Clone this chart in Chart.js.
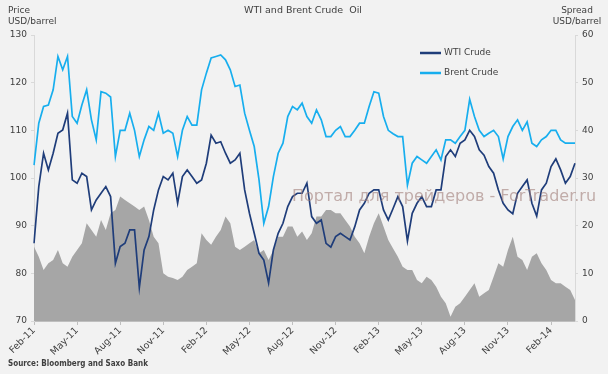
<!DOCTYPE html>
<html>
<head>
<meta charset="utf-8">
<script src="https://cdn.jsdelivr.net/npm/chart.js@4"></script>
<style>
  body { margin: 0; background: #f2f2f2; }
  canvas { display: block; }
</style>
</head>
<body>
<canvas id="oilChart" width="608" height="374"></canvas>
<script>
// Tick labels, one every 9 points (points are ~10 days apart)
const quarterLabels = ['Feb-11', 'May-11', 'Aug-11', 'Nov-11', 'Feb-12', 'May-12', 'Aug-12',
    'Nov-12', 'Feb-13', 'May-13', 'Aug-13', 'Nov-13', 'Feb-14'];
const tickEvery = 9;

// WTI Crude, USD/barrel
const wti = [
    86.3, 98.2, 105.2, 101.7, 105.2, 109.4, 110.1, 113.6, 99.6, 98.9,
    101.0, 100.3, 93.3, 95.4, 96.8, 98.2, 96.1, 82.1, 85.6, 86.3,
    89.1, 89.1, 77.0, 84.9, 87.7, 93.3, 97.5, 100.3, 99.6, 101.0,
    94.7, 100.3, 101.7, 100.3, 98.9, 99.6, 103.1, 109.0, 107.3, 107.6,
    105.2, 103.1, 103.8, 105.2, 97.5, 92.6, 88.4, 84.2, 82.8, 78.0,
    84.9, 88.4, 90.5, 94.0, 96.1, 96.8, 96.8, 98.9, 91.9, 90.5,
    91.2, 86.3, 85.5, 87.7, 88.4, 87.7, 87.0, 89.8, 93.3, 94.7,
    96.8, 97.5, 97.5, 93.3, 91.2, 93.6, 96.1, 94.0, 86.8, 92.6,
    94.7, 96.1, 94.0, 94.0, 97.5, 97.5, 104.5, 105.9, 104.5, 107.3,
    108.0, 110.0, 108.7, 105.9, 104.8, 102.4, 101.0, 97.5, 94.7, 93.3,
    92.5, 96.8, 98.2, 99.6, 94.7, 92.0, 97.5, 98.9, 102.4, 104.0,
    101.7, 98.9, 100.3, 103.1
];

// Brent Crude, USD/barrel
const brent = [
    102.7, 111.5, 115.0, 115.3, 118.5, 125.5, 122.7, 125.5, 112.9, 111.5,
    115.3, 118.5, 112.2, 108.0, 118.1, 117.8, 117.0, 104.5, 110.0, 110.0,
    113.6, 110.0, 104.5, 108.0, 110.8, 110.0, 113.6, 109.4, 110.0, 109.4,
    104.5, 110.0, 112.9, 111.1, 111.1, 118.5, 122.0, 125.2, 125.5, 125.8,
    124.8, 122.7, 119.2, 119.5, 113.6, 110.0, 106.6, 99.6, 90.5, 94.0,
    100.3, 105.2, 107.3, 112.9, 115.0, 114.3, 115.7, 112.9, 111.5, 114.3,
    112.2, 108.7, 108.7, 110.0, 110.8, 108.7, 108.7, 110.0, 111.5, 111.5,
    115.0, 118.1, 117.8, 112.9, 110.0, 109.3, 108.7, 108.7, 98.5, 103.1,
    104.5, 103.8, 103.1, 104.5, 105.9, 103.8, 108.0, 108.0, 107.3, 108.7,
    110.0, 116.5, 112.9, 110.0, 108.7, 109.4, 110.0, 108.7, 104.0, 108.7,
    110.8, 112.2, 110.0, 111.8, 107.3, 106.6, 108.0, 108.7, 110.0, 110.0,
    108.0, 107.3, 107.3, 107.3
];

// Brent-WTI spread, USD/barrel (right axis)
const spread = [
    15.6, 13.5, 10.7, 12.1, 12.8, 14.9, 12.1, 11.4, 13.5, 14.9,
    16.3, 20.5, 19.1, 17.7, 21.2, 19.1, 22.6, 23.3, 26.1, 25.4,
    24.7, 24.0, 23.3, 24.0, 21.2, 17.7, 16.3, 10.0, 9.3, 9.0,
    8.6, 9.3, 10.7, 11.4, 12.1, 18.4, 17.0, 16.0, 17.7, 19.1,
    21.9, 20.5, 15.6, 14.9, 15.6, 16.3, 17.0, 14.2, 14.9, 12.8,
    14.9, 17.7, 17.7, 19.8, 19.8, 17.7, 18.8, 17.0, 18.4, 21.9,
    21.9, 23.3, 23.3, 22.6, 22.6, 21.2, 19.8, 17.7, 16.3, 14.2,
    17.7, 20.5, 22.6, 19.8, 17.0, 15.2, 13.5, 11.4, 10.7, 10.7,
    8.6, 7.9, 9.3, 8.6, 7.2, 5.1, 3.7, 0.9, 3.0, 3.7,
    5.1, 6.5, 7.9, 5.1, 5.8, 6.5, 9.3, 12.1, 11.4, 14.9,
    17.7, 13.5, 12.8, 10.7, 13.5, 14.2, 12.1, 10.7, 8.6, 7.9,
    7.9, 7.2, 6.5, 4.4
];

const labels = wti.map((v, i) => i);
const FONT = '"DejaVu Sans", Verdana, sans-serif';
const TEXT = '#404040';

// Title, axis titles, legend, source and watermark
const textPlugin = {
    id: 'texts',
    afterDraw(chart) {
        const c = chart.ctx;
        c.save();
        c.fillStyle = TEXT;
        c.textBaseline = 'middle';

        c.font = '9.5px ' + FONT;
        c.textAlign = 'center';
        c.fillText('WTI and Brent Crude  Oil', 303, 11);

        c.font = '9px ' + FONT;
        c.textAlign = 'left';
        c.fillText('Price', 8, 11);
        c.fillText('USD/barrel', 8, 22);
        c.textAlign = 'center';
        c.fillText('Spread', 577, 11);
        c.fillText('USD/barrel', 577, 22);

        // legend
        const items = [['WTI Crude', '#1f3d7a', 53], ['Brent Crude', '#17aeee', 73]];
        c.textAlign = 'left';
        items.forEach(([name, color, y]) => {
            c.strokeStyle = color;
            c.lineWidth = 2.5;
            c.beginPath();
            c.moveTo(420, y);
            c.lineTo(441, y);
            c.stroke();
            c.fillText(name, 444, y);
        });

        c.font = 'bold 8px "DejaVu Sans Condensed", ' + FONT;
        c.fillText('Source: Bloomberg and Saxo Bank', 8, 364);

        // watermark
        c.font = '16px ' + FONT;
        c.fillStyle = 'rgba(160, 125, 120, 0.6)';
        c.fillText('Портал для трейдеров - ForTrader.ru', 292, 197);
        c.restore();
    }
};

const ctx = document.getElementById('oilChart').getContext('2d');
const oilChart = new Chart(ctx, {
    type: 'line',
    data: {
        labels: labels,
        datasets: [{
            label: 'WTI Crude',
            data: wti,
            yAxisID: 'y',
            borderColor: '#1f3d7a',
            borderWidth: 1.7,
            pointRadius: 0,
            order: 1
        }, {
            label: 'Brent Crude',
            data: brent,
            yAxisID: 'y',
            borderColor: '#17aeee',
            borderWidth: 1.7,
            pointRadius: 0,
            order: 2
        }, {
            label: 'Spread',
            data: spread,
            yAxisID: 'y1',
            fill: 'origin',
            backgroundColor: '#a6a6a6',
            borderWidth: 0,
            pointRadius: 0,
            order: 3
        }]
    },
    options: {
        responsive: false,
        animation: false,
        layout: { padding: { top: 35 } },
        plugins: {
            legend: { display: false },
            tooltip: { enabled: false }
        },
        scales: {
            x: {
                grid: { drawOnChartArea: false, color: '#bfbfbf', tickLength: 4 },
                border: { color: '#bfbfbf' },
                ticks: {
                    autoSkip: false,
                    minRotation: 45,
                    maxRotation: 45,
                    padding: 0,
                    color: TEXT,
                    font: { family: FONT, size: 9.5 },
                    callback: (v, i) => i % tickEvery === 0 ? quarterLabels[i / tickEvery] : null
                },
                afterFit: s => { s.height = 53; }
            },
            y: {
                position: 'left',
                min: 70,
                max: 130,
                grid: { drawOnChartArea: false, color: '#d9d9d9', tickLength: 3 },
                border: { color: '#d9d9d9' },
                ticks: { stepSize: 10, padding: 4, color: TEXT, font: { family: FONT, size: 9 } },
                afterFit: s => { s.width = 34; }
            },
            y1: {
                position: 'right',
                min: 0,
                max: 60,
                grid: { drawOnChartArea: false, color: '#d9d9d9', tickLength: 3 },
                border: { color: '#d9d9d9' },
                ticks: { stepSize: 10, padding: 4, color: TEXT, font: { family: FONT, size: 9 } },
                afterFit: s => { s.width = 33; }
            }
        }
    },
    plugins: [textPlugin]
});
</script>
</body>
</html>
